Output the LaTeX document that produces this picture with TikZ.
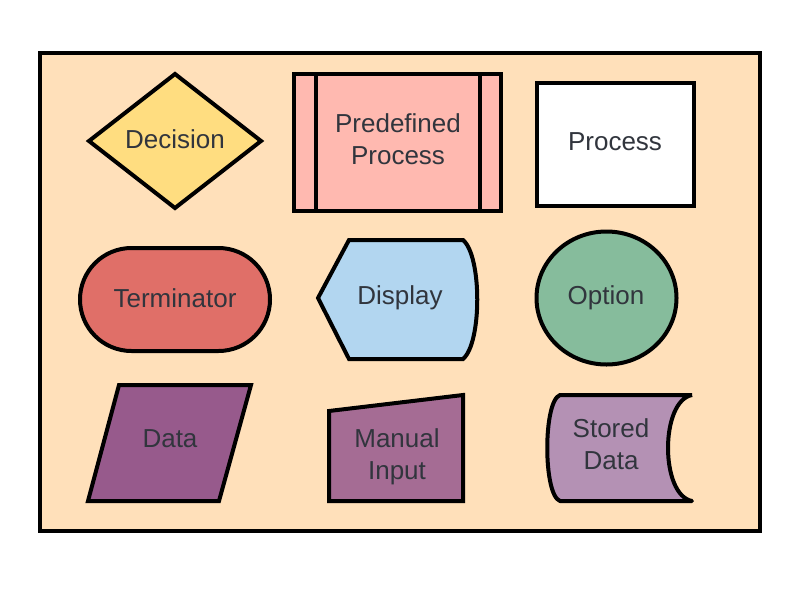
\documentclass[tikz,border=0pt]{standalone}
\usepackage{fontspec}
\setmainfont{Liberation Sans}
\definecolor{peach}{HTML}{FFE0BA}
\definecolor{declr}{HTML}{FFDD80}
\definecolor{predclr}{HTML}{FFB9B0}
\definecolor{termclr}{HTML}{E06F68}
\definecolor{dispclr}{HTML}{B2D6F0}
\definecolor{optclr}{HTML}{86BC9C}
\definecolor{dataclr}{HTML}{975A8C}
\definecolor{manclr}{HTML}{A56C94}
\definecolor{storclr}{HTML}{B491B4}
\definecolor{txtclr}{HTML}{31353D}

\begin{document}
\begin{tikzpicture}[x=0.75pt,y=-0.75pt,line width=3pt,
    lbl/.style={text=txtclr,align=center,font=\fontsize{19.5}{24}\selectfont}]
    \useasboundingbox (0,0) rectangle (809,589);%
    \draw[fill=peach] (40,53) rectangle (760,531);%
    % first row
    \draw[fill=declr] (175,74) -- (261,141) -- (175,208) -- (89,141) -- cycle;%
    \draw[fill=predclr] (294,74) rectangle (501,211);%
    \draw (316,74) -- (316,211) (480,74) -- (480,211);%
    \draw[fill=white] (537,83) rectangle (694,206);%
    % second row
    \draw[fill=termclr,rounded corners=38.6pt] (80,248) rectangle (270,351);%
    \draw[fill=dispclr] (318,298) -- (349,240) -- (463,240)
      .. controls (482,256) and (482,343) .. (463,359) -- (349,359) -- cycle;%
    \draw[fill=optclr] (606.5,298) ellipse [x radius=70,y radius=66.5];%
    % third row
    \draw[fill=dataclr] (119,385) -- (251,385) -- (219,501) -- (88,501) -- cycle;%
    \draw[fill=manclr] (329,411) -- (463,395) -- (463,501) -- (329,501) -- cycle;%
    \draw[fill=storclr,line join=round] (692,395) -- (560,395) .. controls (543,401) and (543,495) .. (560,501)
      -- (692,501) .. controls (660,495) and (660,401) .. (692,395);%
    % labels
    \foreach \n/\x/\y/\t in {dec/175/139/Decision, pred/398/139/{Predefined\\Process},
      proc/615/142/Process, term/175/298/Terminator, disp/400/298/Display,
      opt/606/298/Option, data/170/439/Data, man/397/457/{Manual\\Input},
      stor/611/444/{Stored\\Data}} {%
      \node[lbl] at (\x,\y) (\n) {\t};%
    };%
\end{tikzpicture}
\end{document}
